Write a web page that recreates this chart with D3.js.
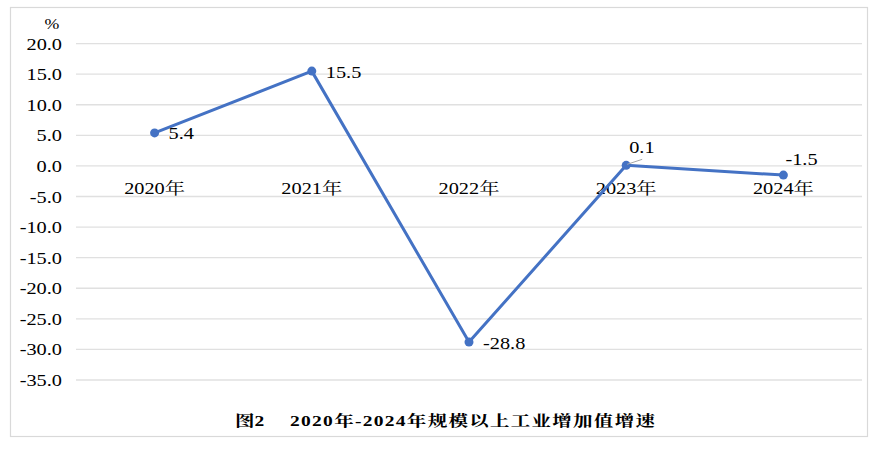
<!DOCTYPE html>
<html><head><meta charset="utf-8">
<script src="https://cdn.jsdelivr.net/npm/d3@7"></script>
<style>body{margin:0;background:#fff}svg{display:block}</style>
</head><body>
<svg id="c" width="878" height="454"></svg>
<script>
const categories = ["2020年","2021年","2022年","2023年","2024年"];
const values = [5.4, 15.5, -28.8, 0.1, -1.5];
const yTicks = [20,15,10,5,0,-5,-10,-15,-20,-25,-30,-35];
const labelPlacement = ["right","right","right","above","above"];
const titlePrefix = "图2";
const titleText = "2020年-2024年规模以上工业增加值增速";
const unitText = "%";

const FONT = "Liberation Serif, Noto Serif CJK SC, serif";
const SX = 1.27;
const fmt = d3.formatLocale({decimal:".",thousands:",",grouping:[3],currency:["",""],minus:"-"}).format(".1f");
const svg = d3.select("#c");

svg.append("rect").attr("x",10.5).attr("y",7.5).attr("width",857).attr("height",429)
  .attr("fill","#fff").attr("stroke","#d9d9d9").attr("stroke-width",1.2);

const x = d3.scaleBand().domain(categories).range([76,862]);
const y = d3.scaleLinear().domain([-35,20]).range([380,43.6]);
const cx = d => x(d) + x.bandwidth()/2;

function txt(g, s, px, py, opts={}){
  return g.append("text")
    .attr("transform",`translate(${px},${py}) scale(${opts.sx||SX},1)`)
    .attr("text-anchor",opts.anchor||"start")
    .style("font-family",FONT)
    .style("font-size",(opts.size||16)+"px")
    .style("font-weight",opts.weight||"normal")
    .style("letter-spacing",(opts.ls||0)+"px")
    .attr("fill","#000")
    .text(s);
}

// gridlines
svg.append("g").selectAll("line").data(yTicks).join("line")
  .attr("x1",76).attr("x2",862)
  .attr("y1",d=>y(d)).attr("y2",d=>y(d))
  .attr("stroke","#e0e0e0").attr("stroke-width",1.3);

// y tick labels
const yl = svg.append("g");
yTicks.forEach(t => txt(yl, fmt(t), 62, y(t)+6, {anchor:"end"}));
txt(yl, unitText, 52, 29, {anchor:"middle", size:14});

// category labels
const xl = svg.append("g");
categories.forEach(c => txt(xl, c, cx(c), 194, {anchor:"middle"}));

// line
const line = d3.line().x((d,i)=>cx(categories[i])).y(d=>y(d));
svg.append("path").datum(values).attr("d",line)
  .attr("fill","none").attr("stroke","#4472C4").attr("stroke-width",3)
  .attr("stroke-linejoin","round");
svg.append("g").selectAll("circle").data(values).join("circle")
  .attr("cx",(d,i)=>cx(categories[i])).attr("cy",d=>y(d)).attr("r",4.5)
  .attr("fill","#4472C4");

// data labels
const dl = svg.append("g");
values.forEach((v,i)=>{
  const px = cx(categories[i]), py = y(v);
  if (labelPlacement[i]==="right") {
    txt(dl, fmt(v), px+14, py+6.5);
  } else {
    if (i===3) {
      dl.append("line").attr("x1",px+1).attr("y1",py-1).attr("x2",px+16).attr("y2",py-6)
        .attr("stroke","#a6a6a6").attr("stroke-width",1);
      txt(dl, fmt(v), px+3, py-12);
    } else {
      txt(dl, fmt(v), px+2, py-10);
    }
  }
});

// title
const tg = svg.append("g");
txt(tg, titlePrefix, 235, 426, {size:15, weight:"bold", sx:1.3});
txt(tg, titleText, 290, 426, {size:15, weight:"bold", sx:1.3, ls:1});
</script>
</body></html>
